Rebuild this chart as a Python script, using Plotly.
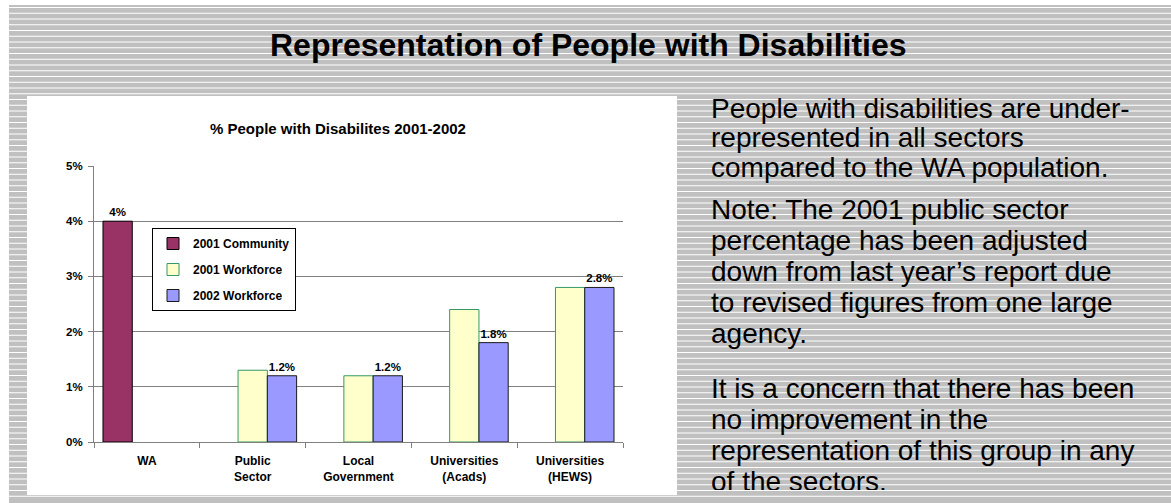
import numpy as np
import plotly.graph_objects as go

# ---------------- data ----------------
categories = ["WA", "Public<br>Sector", "Local<br>Government",
              "Universities<br>(Acads)", "Universities<br>(HEWS)"]
community_2001 = [4.0, None, None, None, None]
workforce_2001 = [None, 1.3, 1.2, 2.4, 2.8]
workforce_2002 = [None, 1.2, 1.2, 1.8, 2.8]
y_ticks = [0, 1, 2, 3, 4, 5]
y_tick_labels = ["0%", "1%", "2%", "3%", "4%", "5%"]

slide_title = "Representation of People with Disabilities"
chart_title = "% People with Disabilites 2001-2002"
paragraphs = [
    ["People with disabilities are under-",
     "represented in all sectors",
     "compared to the WA population."],
    ["Note: The 2001 public sector",
     "percentage has been adjusted",
     "down from last year\u2019s report due",
     "to revised figures from one large",
     "agency."],
    ["It is a concern that there has been",
     "no improvement in the",
     "representation of this group in any",
     "of the sectors."],
]

# ---------------- layout helpers (pixel -> paper) ----------------
W, H = 1171, 503
PL, PR, PT, PB = 94, 623, 166, 442
TXT_L, TXT_T, TXT_B = 677, 96, 490
FONT = "Liberation Sans, Arial, sans-serif"
GRAY = "#c0c0c0"
TXT_SIZE = 28


def X(px):
    return px / W


def Y(py):
    return (H - py) / H


def lbl(vals):
    return [None if v is None else f"{v:g}%" for v in vals]


fig = go.Figure()
fig.add_trace(go.Bar(
    x=categories, y=community_2001, name="2001 Community",
    marker=dict(color="#993366", line=dict(color="#000000", width=1)),
    text=lbl(community_2001), textposition="outside", cliponaxis=False,
    textfont=dict(family=FONT, size=11.5, color="black", weight="bold"),
    legendgroup="a",
))
fig.add_trace(go.Bar(
    x=categories, y=workforce_2001, name="2001 Workforce",
    marker=dict(color="#FFFFCC", line=dict(color="#339966", width=1)),
    legendgroup="b",
))
fig.add_trace(go.Bar(
    x=categories, y=workforce_2002, name="2002 Workforce",
    marker=dict(color="#9999FF", line=dict(color="#1a1a1a", width=1)),
    text=lbl(workforce_2002), textposition="outside", cliponaxis=False,
    textfont=dict(family=FONT, size=11.5, color="black", weight="bold"),
    legendgroup="c",
))

# right-hand bullet text, clipped at the bottom of its panel like the slide
para_baselines = [120.5, 222, 401]
para_steps = [29.5, 31, 31]
mid_shift = 0.35 * TXT_SIZE
txt_lines, txt_y = [], []
for start, step, lines in zip(para_baselines, para_steps, paragraphs):
    for i, line in enumerate(lines):
        txt_lines.append(line)
        txt_y.append(start + i * step - mid_shift)
fig.add_trace(go.Scatter(
    x=[711] * len(txt_lines), y=txt_y, text=txt_lines, mode="text",
    textposition="middle right", cliponaxis=True, showlegend=False,
    hoverinfo="skip",
    textfont=dict(family=FONT, size=TXT_SIZE, color="black"),
    xaxis="x2", yaxis="y2",
))

shapes = []
# striped slide background
shapes.append(dict(type="rect", xref="paper", yref="paper",
                   x0=X(9), x1=X(W + 2), y0=Y(5), y1=Y(H + 2),
                   fillcolor=GRAY, line=dict(width=0), layer="below"))
for yy in np.arange(7.5, 497, 5.75):
    shapes.append(dict(type="line", xref="paper", yref="paper",
                       x0=X(9), x1=X(W + 2), y0=Y(yy), y1=Y(yy),
                       line=dict(color="white", width=1), layer="below"))
# white chart panel
shapes.append(dict(type="rect", xref="paper", yref="paper",
                   x0=X(27), x1=X(677), y0=Y(96), y1=Y(495),
                   fillcolor="white", line=dict(width=0), layer="below"))
# bottom band
shapes.append(dict(type="rect", xref="paper", yref="paper",
                   x0=X(9), x1=X(W + 2), y0=Y(497), y1=Y(H + 2),
                   fillcolor=GRAY, line=dict(width=0), layer="above"))

annotations = [
    dict(text=f"<b>{slide_title}</b>", xref="paper", yref="paper",
         x=X(588), y=Y(45), xanchor="center", yanchor="middle", showarrow=False,
         font=dict(family=FONT, size=32, color="black")),
    dict(text=f"<b>{chart_title}</b>", xref="paper", yref="paper",
         x=X(338), y=Y(128), xanchor="center", yanchor="middle", showarrow=False,
         font=dict(family=FONT, size=15, color="black")),
]

fig.update_layout(
    width=W, height=H, autosize=False,
    margin=dict(l=0, r=0, t=0, b=0, pad=0),
    paper_bgcolor="white", plot_bgcolor="rgba(0,0,0,0)",
    barmode="group", bargap=0.17, bargroupgap=0,
    showlegend=True,
    legend=dict(x=X(152), y=Y(228), xanchor="left", yanchor="top",
                bgcolor="white", bordercolor="black", borderwidth=1,
                font=dict(family=FONT, size=12, color="black", weight="bold"),
                traceorder="grouped", tracegroupgap=7, itemwidth=30),
    shapes=shapes, annotations=annotations,
    font=dict(family=FONT, color="black"),
    xaxis=dict(domain=[X(PL), X(PR)], anchor="y",
               showline=True, linecolor="#808080", linewidth=1,
               ticks="outside", ticklen=5, tickcolor="#808080",
               tickson="boundaries", ticklabelstandoff=8,
               tickfont=dict(family=FONT, size=12, color="black", weight="bold"),
               automargin=False, fixedrange=True),
    yaxis=dict(domain=[Y(PB), Y(PT)], anchor="x",
               range=[0, 5], tickvals=y_ticks, ticktext=y_tick_labels,
               showgrid=True, gridcolor="#808080", gridwidth=1,
               showline=True, linecolor="#808080", linewidth=1,
               ticks="outside", ticklen=5, tickcolor="#808080",
               ticklabelstandoff=3,
               tickfont=dict(family=FONT, size=11.5, color="black", weight="bold"),
               zeroline=False, automargin=False, fixedrange=True),
    xaxis2=dict(domain=[X(TXT_L), 1], anchor="y2", range=[TXT_L, W],
                visible=False, fixedrange=True),
    yaxis2=dict(domain=[Y(TXT_B), Y(TXT_T)], anchor="x2",
                range=[TXT_B, TXT_T], visible=False, fixedrange=True),
)

fig.write_html("out.html")
